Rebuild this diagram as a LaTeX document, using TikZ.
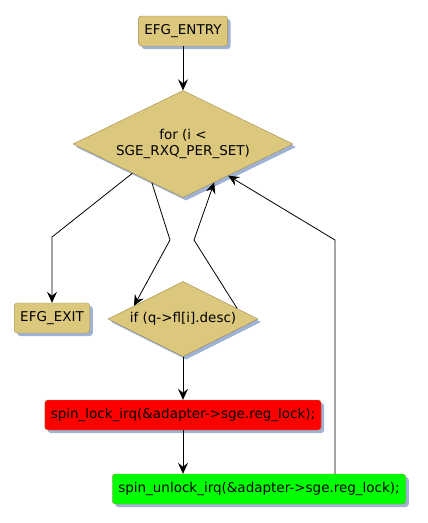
\documentclass[tikz,border=0pt]{standalone}
\usepackage{fontspec}
\setmainfont{DejaVu Sans}
\usepackage{xcolor}
\definecolor{boxtan}{RGB}{220,200,124}
\definecolor{edgetan}{RGB}{160,140,80}
\definecolor{shadowblue}{RGB}{160,178,212}
\definecolor{lockred}{RGB}{255,0,0}
\definecolor{unlockgreen}{RGB}{0,255,0}
\usetikzlibrary{shapes.geometric,arrows.meta,shadows}

\begin{document}
\begin{tikzpicture}[
  x=1pt, y=-1pt,
  font=\fontsize{13.5}{16}\selectfont,
  shade/.style={drop shadow={shadow xshift=3pt, shadow yshift=-3pt,
                fill=shadowblue, opacity=1}},
  term/.style={rectangle, draw=edgetan, fill=boxtan, rounded corners=3pt,
               minimum height=30pt, inner xsep=6pt, shade},
  cond/.style={diamond, draw=edgetan, fill=boxtan, inner sep=0pt,
               align=center, shade},
  stmt/.style={rectangle, draw=edgetan, rounded corners=3pt,
               minimum height=30pt, inner xsep=6pt, shade},
  flow/.style={-{Stealth[length=11pt,width=10pt,inset=4pt]}, line width=0.8pt}
]
  \useasboundingbox (0,0) rectangle (428,523);
  % nodes
  \node[term] (entry) at (183,31) {EFG\_ENTRY};
  \node[cond, aspect=2.05, minimum width=220pt, minimum height=107pt] (loop)
    at (183,144) {for (i <\\SGE\_RXQ\_PER\_SET)};
  \node[term] (exit) at (52,318) {EFG\_EXIT};
  \node[cond, aspect=2, minimum width=150pt, minimum height=75pt] (test)
    at (183,319) {if (q->fl[i].desc)};
  \node[stmt, fill=lockred] (lock) at (183,415)
    {spin\_lock\_irq(\&adapter->sge.reg\_lock);};
  \node[stmt, fill=unlockgreen] (unlock) at (259,489)
    {spin\_unlock\_irq(\&adapter->sge.reg\_lock);};
  % connectors
  \draw[flow] (entry) -- (loop);
  \draw[flow] (loop.210) -- (52,237) -- (exit);
  \draw[flow] (loop.231) -- (170,240) -- (test.165);
  \draw[flow] (test.11) -- (194,240) -- (loop.309);
  \draw[flow] (unlock.north -| 335,0) -- (335,240) -- (loop.325);
  \draw[flow] (test) -- (lock);
  \draw[flow] (lock) -- (lock |- unlock.north);
\end{tikzpicture}
\end{document}
